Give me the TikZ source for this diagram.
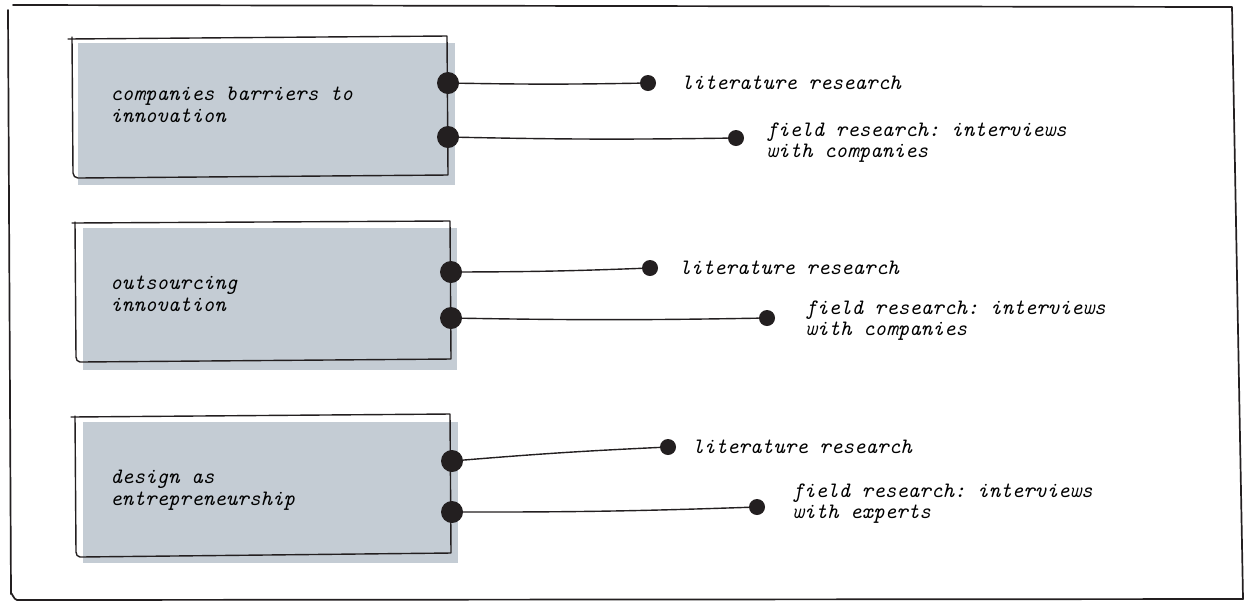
\documentclass[tikz,border=0pt]{standalone}
\usepackage{tikz}

\definecolor{boxgray}{RGB}{196,204,212}
\definecolor{inkblack}{RGB}{35,31,32}

\begin{document}
\frenchspacing
\begin{tikzpicture}[
            x=0.5pt, y=-0.5pt,
            sketch/.style={inkblack, line width=0.7pt, line cap=round, line join=round},
            bigdot/.style={circle, fill=inkblack, inner sep=0pt, minimum size=11pt},
            smalldot/.style={circle, fill=inkblack, inner sep=0pt, minimum size=8pt},
            boxtext/.style={anchor=base west, align=left, inner sep=0pt,
                font=\ttfamily\itshape\fontsize{11}{10.75}\selectfont},
            leaf/.style={anchor=base west, align=left, inner sep=0pt,
                font=\ttfamily\itshape\fontsize{11}{10.5}\selectfont}
        ]
            \useasboundingbox (0,0) rectangle (1247,602);

            % outer frame
            \draw[sketch, line width=0.85pt] (8,10) -- (11,594) to[out=85,in=180] (17,600) -- (1243,599) -- (1232,7) -- (13,5);

            % boxes
            \fill[boxgray] (78,43) rectangle (455,185);
            \draw[sketch] (68,39) -- (447,36) -- (448,175) -- (78,178) to[out=180,in=-90] (73,173) -- (72,37);

            \fill[boxgray] (83,228) rectangle (457,370);
            \draw[sketch] (72,223) -- (450,221) -- (451,359) -- (80,362) to[out=180,in=-90] (76,357) -- (75,222);

            \fill[boxgray] (83,422) rectangle (458,563);
            \draw[sketch] (71,417) -- (450,414) -- (451,553) -- (80,557) to[out=180,in=-90] (76,552) -- (75,416);

            % base is the last line
            \node[boxtext] (barriers) at (110,122) {companies barriers to\\innovation};
            \node[boxtext] (outsourcing) at (110,311) {outsourcing\\innovation};
            \node[boxtext] (entrepreneur) at (110,505) {design as\\entrepreneurship};

            % dots on the boxes
            \node[bigdot] (barriersA) at (448,83) {};
            \node[bigdot] (barriersB) at (448,137) {};
            \node[bigdot] (outsourcingA) at (451,272) {};
            \node[bigdot] (outsourcingB) at (451,318) {};
            \node[bigdot] (entrepreneurA) at (452,461) {};
            \node[bigdot] (entrepreneurB) at (452,512) {};

            % loose ends
            \node[smalldot] (barriersLit) at (648,83) {};
            \node[smalldot] (barriersField) at (736,138) {};
            \node[smalldot] (outsourcingLit) at (650,268) {};
            \node[smalldot] (outsourcingField) at (767,318) {};
            \node[smalldot] (entrepreneurLit) at (668,447) {};
            \node[smalldot] (entrepreneurField) at (757,507) {};

            \draw[sketch] (barriersA) to[bend right=1] (barriersLit);
            \draw[sketch] (barriersB) to[bend right=1] (barriersField);
            \draw[sketch] (outsourcingA) to[bend right=1] (outsourcingLit);
            \draw[sketch] (outsourcingB) to[bend right=1] (outsourcingField);
            \draw[sketch] (entrepreneurA) to[bend left=1] (entrepreneurLit);
            \draw[sketch] (entrepreneurB) to[bend right=1] (entrepreneurField);

            \node[leaf] (barriersLitText) at (681,89) {literature research};
            \node[leaf] (barriersFieldText) at (766,157) {field research: interviews\\with companies};
            \node[leaf] (outsourcingLitText) at (679,274) {literature research};
            \node[leaf] (outsourcingFieldText) at (805,335) {field research: interviews\\with companies};
            \node[leaf] (entrepreneurLitText) at (692,453) {literature research};
            \node[leaf] (entrepreneurFieldText) at (792,518) {field research: interviews\\with experts};
        \end{tikzpicture}
\end{document}
